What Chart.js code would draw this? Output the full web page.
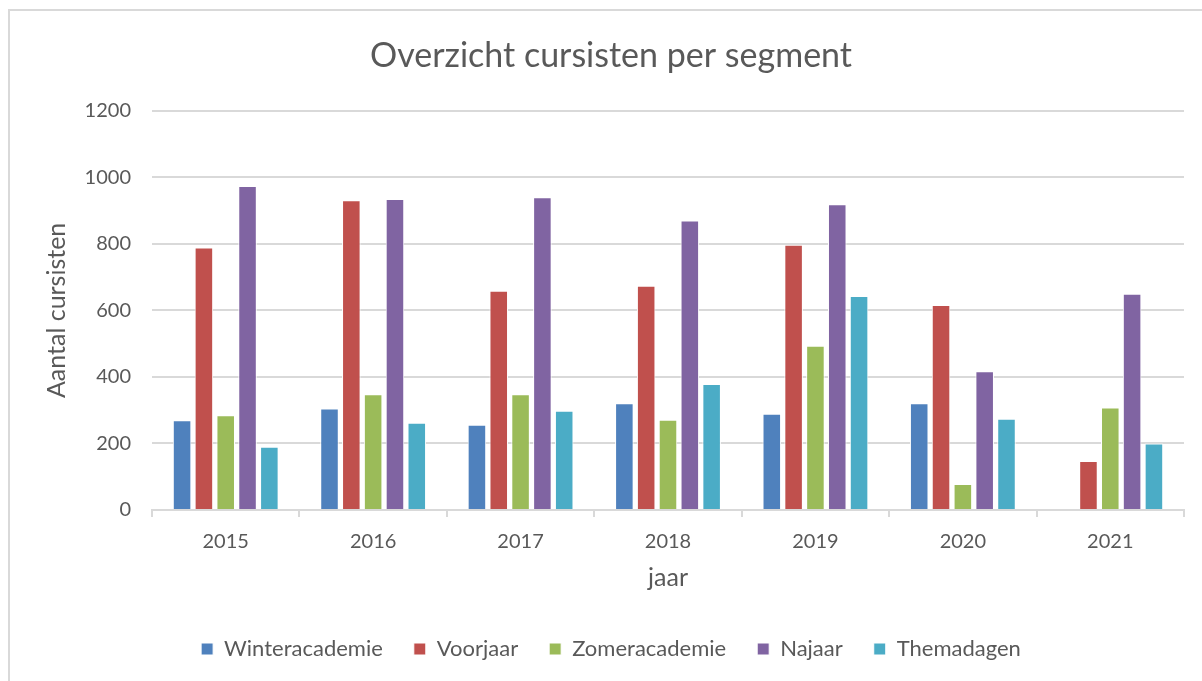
<!DOCTYPE html>
<html>
<head>
<meta charset="utf-8">
<script src="https://cdn.jsdelivr.net/npm/chart.js@4"></script>
<style>
  html, body { margin: 0; padding: 0; background: #fff; }
  #wrap { position: relative; width: 1202px; height: 681px; overflow: hidden; }
  #frame { position: absolute; left: 8px; top: 9px; width: 1200px; height: 700px;
           border-left: 2px solid #d9d9d9; border-top: 2px solid #d9d9d9; pointer-events: none; }
</style>
</head>
<body>
<div id="wrap">
  <canvas id="chart" width="1202" height="681"></canvas>
  <div id="frame"></div>
</div>
<script>
// years and students per segment
const years = ['2015', '2016', '2017', '2018', '2019', '2020', '2021'];
const winteracademie = [270, 305, 256, 321, 289, 321, null];
const voorjaar = [789, 931, 659, 674, 797, 616, 147];
const zomeracademie = [285, 348, 348, 271, 494, 78, 308];
const najaar = [974, 935, 940, 870, 919, 417, 650];
const themadagen = [190, 262, 298, 379, 643, 274, 200];

const FONT = 'Lato, "Open Sans", sans-serif';
const TEXT = '#595959';
const GRID = '#d9d9d9';

function series(label, data, color) {
  return {
    label, data,
    backgroundColor: color,
    borderColor: '#ffffff',
    borderWidth: 1,
    categoryPercentage: 0.74,
    barPercentage: 0.85,
  };
}

new Chart(document.getElementById('chart'), {
  type: 'bar',
  data: {
    labels: years,
    datasets: [
      series('Winteracademie', winteracademie, '#4F81BD'),
      series('Voorjaar', voorjaar, '#C0504D'),
      series('Zomeracademie', zomeracademie, '#9BBB59'),
      series('Najaar', najaar, '#8064A2'),
      series('Themadagen', themadagen, '#4BACC6'),
    ]
  },
  options: {
    responsive: false,
    animation: false,
    layout: { padding: { left: 38, right: 18, top: 0, bottom: 11 } },
    plugins: {
      title: {
        display: true,
        text: 'Overzicht cursisten per segment',
        color: TEXT,
        font: { family: FONT, size: 34, weight: 'normal' },
        padding: { top: 36, bottom: 34 }
      },
      legend: {
        position: 'bottom',
        labels: {
          color: TEXT,
          font: { family: FONT, size: 22 },
          boxWidth: 12, boxHeight: 12,
          padding: 31
        }
      },
      tooltip: { enabled: false }
    },
    scales: {
      x: {
        grid: { drawOnChartArea: false, drawTicks: true, tickLength: 7, color: GRID, lineWidth: 2 },
        border: { color: GRID, width: 2 },
        ticks: { color: TEXT, font: { family: FONT, size: 20 }, padding: 13 },
        title: { display: true, text: 'jaar', color: TEXT, font: { family: FONT, size: 25 }, padding: { top: 0, bottom: 14 } },
        afterFit: s => { s.height = 97; }
      },
      y: {
        min: 0, max: 1200,
        ticks: { stepSize: 200, color: TEXT, font: { family: FONT, size: 20 }, padding: 21,
                 callback: v => String(v) },
        grid: { color: GRID, lineWidth: 2, drawTicks: false },
        border: { display: false },
        title: { display: true, text: 'Aantal cursisten', color: TEXT, font: { family: FONT, size: 25 }, padding: { top: 4, bottom: 0 } },
        afterFit: s => { s.width = 114; }
      }
    }
  }
});
</script>
</body>
</html>
